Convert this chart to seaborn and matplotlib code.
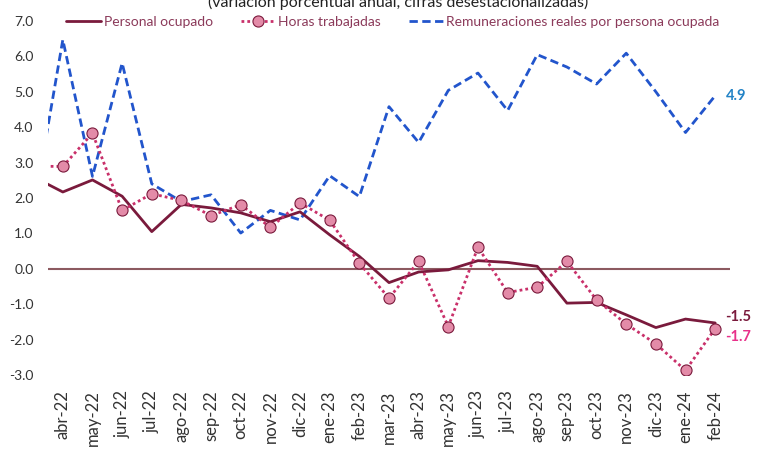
import numpy as np
import pandas as pd
import matplotlib
matplotlib.use("Agg")
import matplotlib.pyplot as plt
import seaborn as sns

# months (mar-22 is only there so the lines start at the left edge)
months = ["mar-22", "abr-22", "may-22", "jun-22", "jul-22", "ago-22", "sep-22", "oct-22",
          "nov-22", "dic-22", "ene-23", "feb-23", "mar-23", "abr-23", "may-23", "jun-23",
          "jul-23", "ago-23", "sep-23", "oct-23", "nov-23", "dic-23", "ene-24", "feb-24"]

personal = [2.6, 2.17, 2.51, 2.05, 1.05, 1.82, 1.72, 1.58, 1.33, 1.61, 0.96, 0.35,
            -0.39, -0.09, -0.03, 0.23, 0.18, 0.07, -0.97, -0.95, -1.3, -1.66, -1.42, -1.53]
horas = [2.9, 2.89, 3.83, 1.65, 2.12, 1.93, 1.5, 1.81, 1.17, 1.86, 1.37, 0.16,
         -0.83, 0.21, -1.63, 0.61, -0.67, -0.52, 0.21, -0.88, -1.56, -2.12, -2.87, -1.69]
remun = [1.6, 6.47, 2.61, 5.81, 2.4, 1.9, 2.09, 1.01, 1.65, 1.38, 2.63, 2.04,
         4.58, 3.57, 5.04, 5.53, 4.47, 6.05, 5.7, 5.22, 6.09, 5.0, 3.85, 4.89]

df = pd.DataFrame({"mes": months, "x": np.arange(len(months)),
                   "personal": personal, "horas": horas, "remun": remun})

sns.set_style("white")
plt.rcParams["font.family"] = ["Lato", "DejaVu Sans"]

maroon = "#7a1a3c"
pink_line = "#c9306a"
pink_face = "#e38ba8"
blue = "#2255cc"

fig = plt.figure(figsize=(7.58, 4.49), dpi=100)
ax = fig.add_axes([48 / 758, 1 - 375 / 449, (730 - 48) / 758, (375 - 21) / 449])

ax.axhline(0, color="#8c5a60", lw=1.5, zorder=1)

sns.lineplot(data=df, x="x", y="personal", ax=ax, color=maroon, lw=2,
             label="Personal ocupado", zorder=3)
sns.lineplot(data=df, x="x", y="horas", ax=ax, color=pink_line, lw=2,
             linestyle=(0, (1, 1.1)), marker="o", markersize=8,
             markerfacecolor=pink_face, markeredgecolor=maroon, markeredgewidth=0.8,
             label="Horas trabajadas", zorder=4)
sns.lineplot(data=df, x="x", y="remun", ax=ax, color=blue, lw=2,
             linestyle=(0, (3, 1.6)), label="Remuneraciones reales por persona ocupada",
             zorder=2)

ax.set_xlim(0.5, len(months) - 0.5)
ax.set_ylim(-3, 7)
ax.set_xticks(df["x"][1:])
ax.set_xticklabels(df["mes"][1:], rotation=90, fontsize=12, color="#333333")
ax.set_yticks(np.arange(-3, 8, 1))
ax.set_yticklabels([f"{v:.1f}" for v in np.arange(-3, 8, 1)], fontsize=10, color="#333333")
ax.tick_params(axis="x", pad=11, length=0)
ax.tick_params(axis="y", pad=10.5, length=0)
ax.set_xlabel("")
ax.set_ylabel("")
for s in ax.spines.values():
    s.set_visible(False)

last = df["x"].iloc[-1]
ax.annotate(f"{personal[-1]:.1f}", (last, personal[-1]), xytext=(7, 4), textcoords="offset points",
            ha="left", va="center", fontsize=10.5, fontweight="bold", color=maroon)
ax.annotate(f"{horas[-1]:.1f}", (last, horas[-1]), xytext=(7, -6), textcoords="offset points",
            ha="left", va="center", fontsize=10.5, fontweight="bold", color="#e8318a")
ax.annotate(f"{remun[-1]:.1f}", (last, remun[-1]), xytext=(8, 0), textcoords="offset points",
            ha="left", va="center", fontsize=10.5, fontweight="bold", color="#2383c6")

leg = ax.legend(loc="center", bbox_to_anchor=(393 / 758, 1 - 22 / 449),
                bbox_transform=fig.transFigure, ncol=3, frameon=False, fontsize=10,
                handlelength=2.5, handletextpad=0.2, columnspacing=2.0)
for t in leg.get_texts():
    t.set_color("#8b3a5a")

fig.text(398 / 758, 1 - 7 / 449, "(variación porcentual anual, cifras desestacionalizadas)",
         ha="center", va="baseline", fontsize=11.5, color="#222222")

fig.savefig("out.png", dpi=100)
